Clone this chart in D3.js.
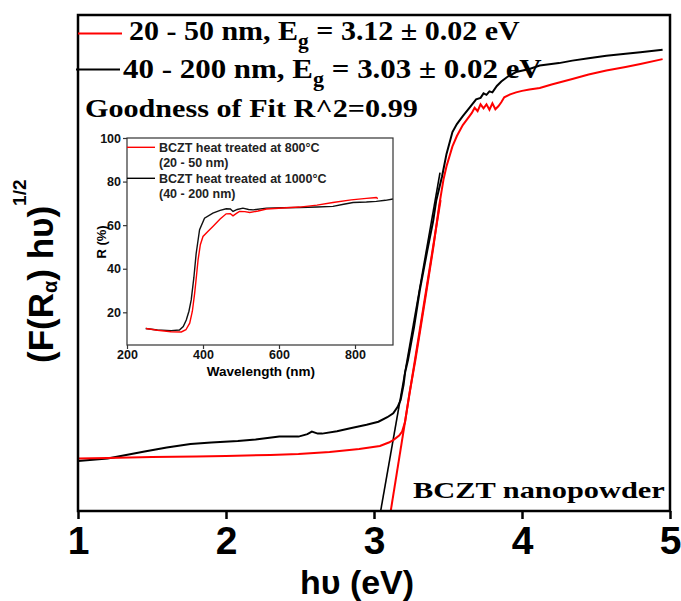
<!DOCTYPE html>
<html><head><meta charset="utf-8">
<script src="https://cdn.jsdelivr.net/npm/d3@7"></script>
<style>body{margin:0;background:#fff}svg{display:block}</style>
</head><body>
<svg id="c" width="681" height="601"></svg>
<script>
// ---------- data ----------
const xTicks = [1, 2, 3, 4, 5];
const legendLabels = ["20 - 50 nm, E", "40 - 200 nm, E"];
const legendTails = [" = 3.12 ± 0.02 eV", " = 3.03 ± 0.02 eV"];

const redEv = [1.00,1.20,1.50,1.80,2.00,2.30,2.49,2.70,2.90,3.04,3.10,3.13,3.17,3.19,3.21,3.24,3.28,3.31,3.35,3.40,3.44,3.47,3.49,3.53,3.56,3.60,3.63,3.66,3.68,3.70,3.72,3.74,3.76,3.78,3.80,3.82,3.84,3.86,3.88,3.92,3.96,4.00,4.05,4.12,4.20,4.34,4.45,4.57,4.70,4.80,4.95];
const redVal = [10.6,10.7,10.9,11.0,11.1,11.3,11.5,11.9,12.5,13.1,13.8,14.3,15.2,16.0,18.0,23.8,30.5,36.0,43.5,53.0,61.5,66.9,69.5,73.5,75.6,77.8,79.0,80.2,81.3,80.6,82.0,81.2,82.0,80.9,82.2,81.0,81.6,82.4,83.4,84.0,84.4,84.7,85.0,85.3,86.0,87.1,88.0,88.8,89.5,90.1,91.1];

const blackEv = [1.00,1.20,1.45,1.60,1.76,1.90,2.08,2.20,2.36,2.49,2.55,2.58,2.62,2.65,2.75,2.84,2.95,3.03,3.09,3.13,3.16,3.18,3.20,3.21,3.23,3.27,3.31,3.36,3.40,3.42,3.46,3.49,3.53,3.56,3.60,3.65,3.69,3.72,3.74,3.76,3.78,3.80,3.83,3.86,3.90,3.96,4.05,4.12,4.25,4.34,4.45,4.57,4.70,4.80,4.95];
const blackVal = [10.1,10.6,12.0,12.8,13.5,13.8,14.1,14.4,15.0,15.0,15.5,16.0,15.6,15.6,16.1,16.7,17.4,18.0,18.9,19.7,21.0,22.4,25.5,27.9,30.5,37.0,44.6,52.5,58.5,62.5,67.5,72.0,76.4,78.0,79.6,81.5,83.0,83.3,84.2,83.9,84.6,84.4,85.7,86.6,87.5,88.5,89.1,89.8,90.3,90.8,91.3,91.8,92.2,92.5,93.0];

const redFitEv = [3.113, 3.45];
const redFitVal = [0, 62.7];
const blackFitEv = [3.045, 3.446];
const blackFitVal = [0, 68.2];

// inset: reflectance spectra
const insetXTicks = [200, 400, 600, 800];
const insetYTicks = [20, 40, 60, 80, 100];
const insetRedNm = [250,280,316,343,355,365,372,378,383,387,393,400,412,426,445,461,472,479,488,496,510,523,545,567,610,654,700,742,790,830,850,856,860];
const insetRedR  = [12.6,11.8,11.1,11.0,12.0,15.0,20.5,28.7,37.0,44.0,51.0,54.8,57.0,59.4,62.8,65.2,65.3,64.3,65.4,66.3,66.2,65.8,66.5,67.4,67.9,68.3,69.2,70.4,71.6,72.3,72.6,72.7,72.2];
const insetBlackNm = [249,280,316,338,348,356,363,369,376,382,391,404,426,445,461,472,479,490,505,520,532,567,610,654,700,742,770,795,830,856,880,900];
const insetBlackR  = [12.6,11.9,11.6,11.9,13.5,16.5,20.5,25.7,36.0,47.0,57.9,63.2,65.5,66.8,67.5,67.4,66.3,67.2,67.8,67.2,67.0,67.8,68.0,68.1,68.3,68.6,69.6,70.4,70.6,70.9,71.4,72.0];
const insetLegend = [["BCZT heat treated at 800°C", "(20 - 50 nm)"], ["BCZT heat treated at 1000°C", "(40 - 200 nm)"]];

// ---------- drawing ----------
const svg = d3.select("#c");
const RED = "#ff0000", BLACK = "#000000";
const SANS = "'Liberation Sans', Arial, sans-serif";
const SERIF = "'Liberation Serif', 'Times New Roman', serif";

const x = d3.scaleLinear().domain([1, 5]).range([78, 670]);
const y = d3.scaleLinear().domain([0, 100]).range([511, 15]);

const line = (xs, ys, sx, sy) => d3.line().x(d => sx(d[0])).y(d => sy(d[1]))(xs.map((v, i) => [v, ys[i]]));

// curves
svg.append("path").attr("d", line(blackEv, blackVal, x, y)).attr("fill", "none").attr("stroke", BLACK).attr("stroke-width", 2);
svg.append("path").attr("d", line(blackFitEv, blackFitVal, x, y)).attr("fill", "none").attr("stroke", BLACK).attr("stroke-width", 1.6);
svg.append("path").attr("d", line(redEv, redVal, x, y)).attr("fill", "none").attr("stroke", RED).attr("stroke-width", 2);
svg.append("path").attr("d", line(redFitEv, redFitVal, x, y)).attr("fill", "none").attr("stroke", RED).attr("stroke-width", 2);

// frame
svg.append("rect").attr("x", 78).attr("y", 15).attr("width", 592).attr("height", 496)
  .attr("fill", "none").attr("stroke", BLACK).attr("stroke-width", 2.5);

// x axis
const xa = svg.append("g").attr("transform", "translate(0,511)")
  .call(d3.axisBottom(x).tickValues(xTicks).tickSize(8).tickFormat(d3.format("d")));
xa.select(".domain").remove();
xa.selectAll(".tick line").attr("stroke-width", 2.5);
xa.selectAll(".tick text").attr("y", 43).attr("dy", 0)
  .style("font-family", SANS).style("font-weight", "bold").style("font-size", "39px").attr("fill", BLACK);

// axis titles
svg.append("text").attr("x", 357).attr("y", 594).attr("text-anchor", "middle")
  .style("font-family", SANS).style("font-weight", "bold").style("font-size", "34px").text("hυ (eV)");

const yl = svg.append("text").attr("transform", "translate(53,363) rotate(-90)")
  .style("font-family", SANS).style("font-weight", "bold").style("font-size", "35px");
yl.append("tspan").text("(F(R");
yl.append("tspan").attr("dy", 4).style("font-size", "20px").text("α");
yl.append("tspan").attr("dy", -4).text(") hυ)");
yl.append("tspan").attr("dy", -27).style("font-size", "19px").text("1/2");

// stretched serif text helper
function serifText(xp, yp, size, width, build) {
  const g = svg.append("g");
  const t = g.append("text").style("font-family", SERIF).style("font-weight", "bold").style("font-size", size + "px");
  build(t);
  const w = t.node().getComputedTextLength();
  g.attr("transform", `translate(${xp},${yp}) scale(${width / w},1)`);
  return t;
}

// main legend
const legendY = [33.5, 69.5];
const legendColors = [RED, BLACK];
const legendX1 = [78, 76];
const legendX2 = [122, 120];
const legendTextX = [129, 123];
const legendWidths = [391, 419];
const legendBase = [40, 78];
legendLabels.forEach((lab, i) => {
  svg.append("line").attr("x1", legendX1[i]).attr("x2", legendX2[i]).attr("y1", legendY[i]).attr("y2", legendY[i])
    .attr("stroke", legendColors[i]).attr("stroke-width", 2);
  serifText(legendTextX[i], legendBase[i], 28, legendWidths[i], t => {
    t.append("tspan").text(lab);
    t.append("tspan").attr("dy", 8).style("font-size", "20px").text("g");
    t.append("tspan").attr("dy", -8).text(legendTails[i]);
  });
});
serifText(85, 117, 26, 333, t => t.text("Goodness of Fit R^2=0.99"));
serifText(413, 498, 23, 252, t => t.text("BCZT nanopowder"));

// ---------- inset ----------
const ix = d3.scaleLinear().domain([200, 900]).range([127, 393]);
const iy = d3.scaleLinear().domain([5, 100]).range([345, 138]);

svg.append("path").attr("d", line(insetBlackNm, insetBlackR, ix, iy)).attr("fill", "none").attr("stroke", "#111").attr("stroke-width", 1.4);
svg.append("path").attr("d", line(insetRedNm, insetRedR, ix, iy)).attr("fill", "none").attr("stroke", RED).attr("stroke-width", 1.4);

svg.append("rect").attr("x", 127).attr("y", 138).attr("width", 266).attr("height", 207)
  .attr("fill", "none").attr("stroke", "#333").attr("stroke-width", 1.2);

const iax = svg.append("g").attr("transform", "translate(0,345)")
  .call(d3.axisBottom(ix).tickValues(insetXTicks).tickSize(4).tickPadding(2));
const iay = svg.append("g").attr("transform", "translate(127,0)")
  .call(d3.axisLeft(iy).tickValues(insetYTicks).tickSize(4).tickPadding(2));
[iax, iay].forEach(a => {
  a.select(".domain").remove();
  a.selectAll(".tick line").attr("stroke", "#333").attr("stroke-width", 1.2);
  a.selectAll(".tick text").style("font-family", SANS).style("font-weight", "bold").style("font-size", "12.5px").attr("fill", "#111");
});
iax.selectAll(".tick text").attr("y", 14).attr("dy", 0);

svg.append("text").attr("x", 261).attr("y", 376).attr("text-anchor", "middle")
  .style("font-family", SANS).style("font-weight", "bold").style("font-size", "13.5px").text("Wavelength (nm)");
svg.append("text").attr("transform", "translate(106,242) rotate(-90)").attr("text-anchor", "middle")
  .style("font-family", SANS).style("font-weight", "bold").style("font-size", "13px").text("R (%)");

const insetLegY = [147.3, 178.3];
const insetLegBase = [[151.7, 166.7], [182.7, 198.3]];
insetLegend.forEach((pair, i) => {
  svg.append("line").attr("x1", 127).attr("x2", 155).attr("y1", insetLegY[i]).attr("y2", insetLegY[i])
    .attr("stroke", legendColors[i]).attr("stroke-width", 1.4);
  pair.forEach((s, j) => {
    svg.append("text").attr("x", 159).attr("y", insetLegBase[i][j])
      .style("font-family", SANS).style("font-weight", "bold").style("font-size", "12.5px").attr("fill", "#222").text(s);
  });
});
</script>
</body></html>
